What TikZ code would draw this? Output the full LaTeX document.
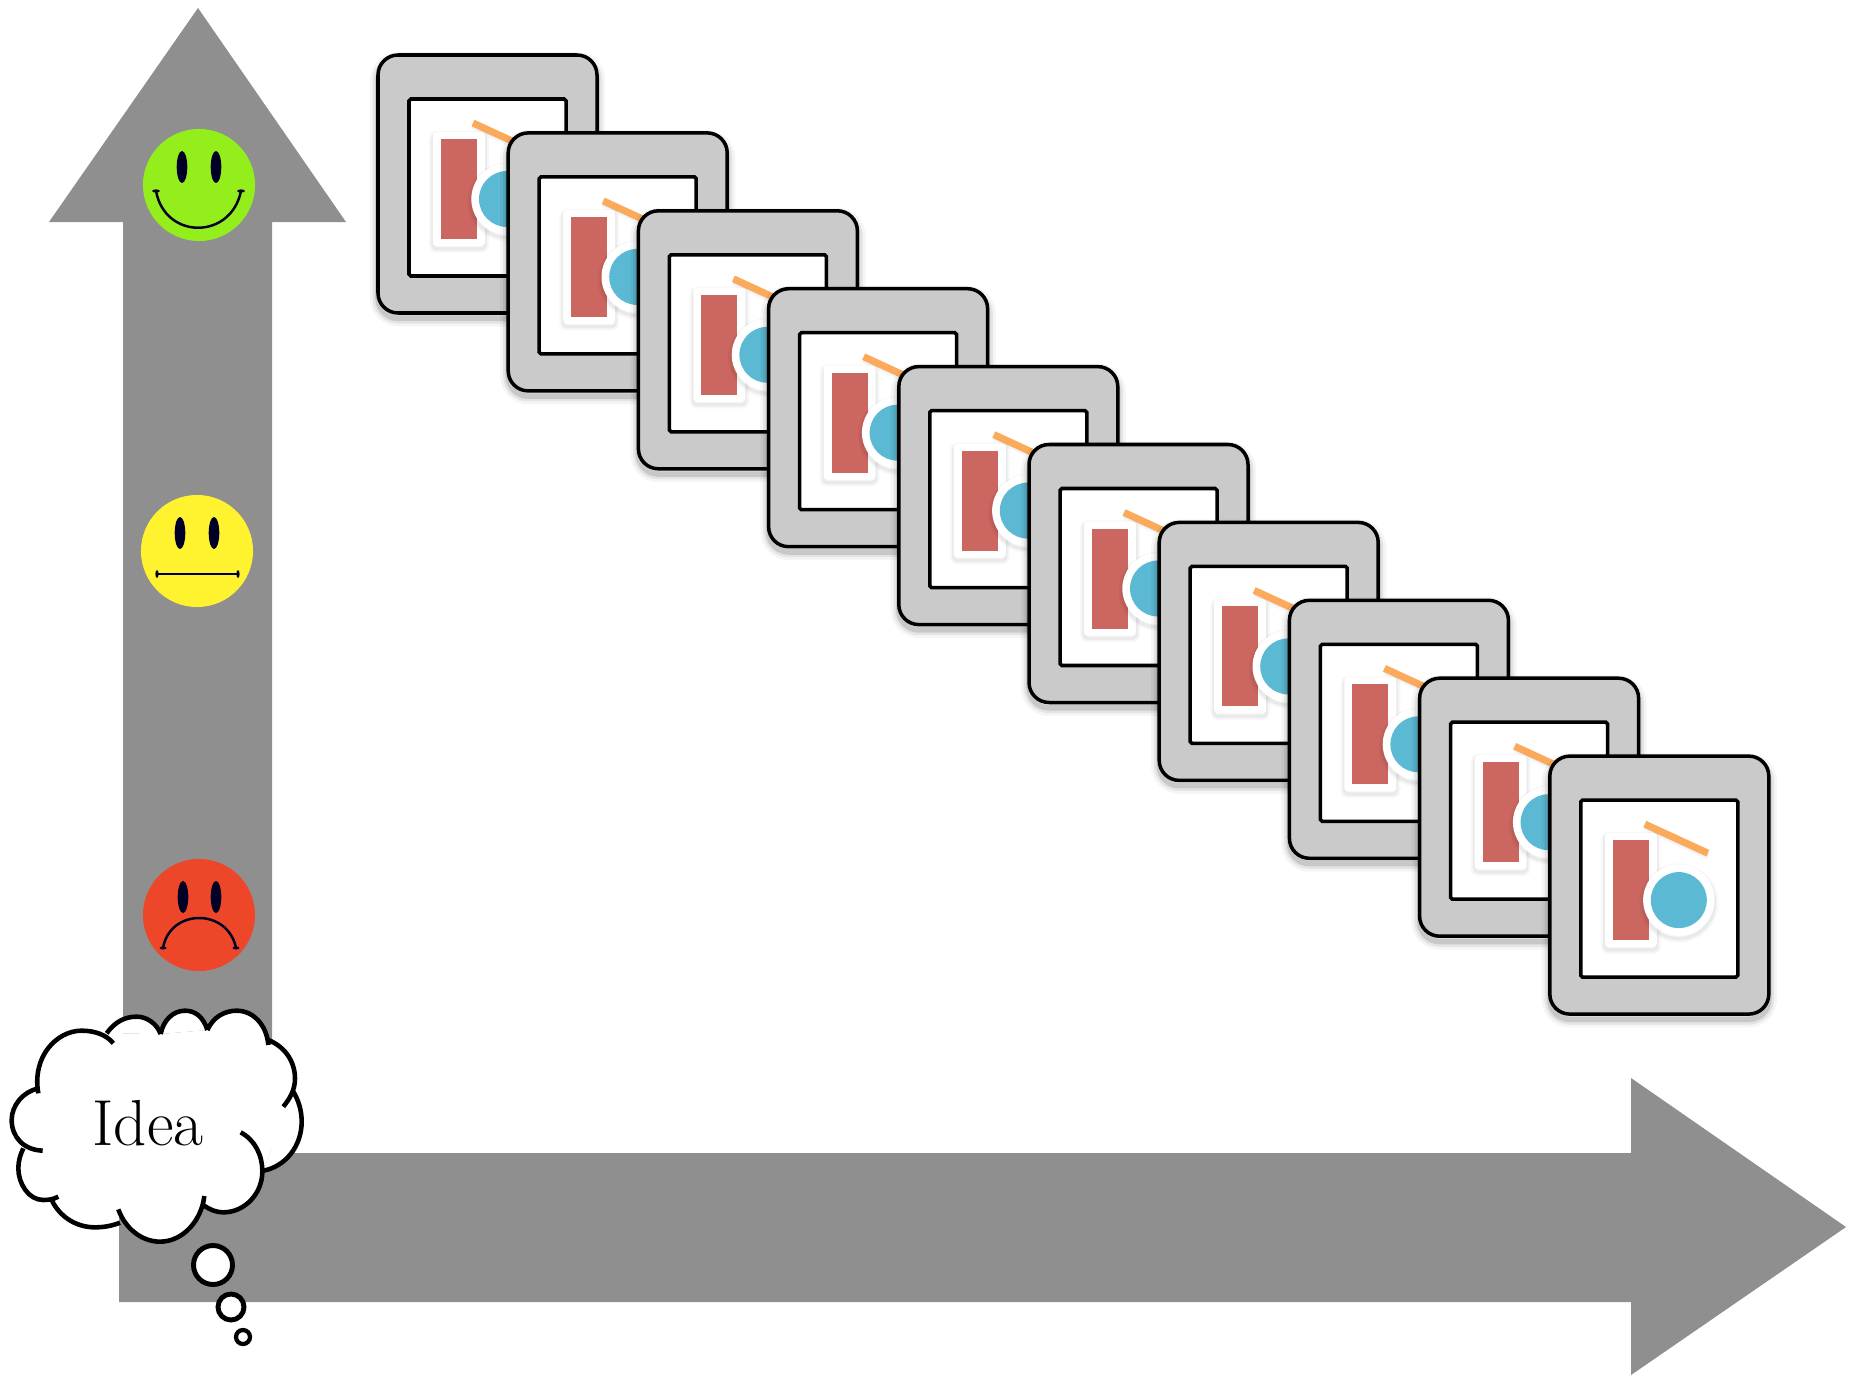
\documentclass[tikz,border=0pt]{standalone}
\usepackage{xcolor}
\usetikzlibrary{arrows.meta,calc,positioning}
\definecolor{axisgray}{HTML}{8F8F8F}
\definecolor{cardgray}{HTML}{CACACA}
\definecolor{barred}{HTML}{CC6660}
\definecolor{ballblue}{HTML}{5CB9D3}
\definecolor{stickorange}{HTML}{FBA95B}
\definecolor{happygreen}{HTML}{93EE1C}
\definecolor{flatyellow}{HTML}{FFF22F}
\definecolor{sadred}{HTML}{EE4629}
\newcommand{\cloudlobes}{
  (115,340) .. controls (95,230) and (170,152) .. (245,152) .. controls (285,152) and (320,165) .. (340,190)
  (320,160) .. controls (345,125) and (375,110) .. (410,110) .. controls (440,110) and (470,130) .. (482,162)
  (482,162) .. controls (490,120) and (520,92) .. (555,92) .. controls (585,92) and (610,110) .. (622,150)
  (622,150) .. controls (640,110) and (675,92) .. (710,92) .. controls (760,92) and (800,135) .. (805,195)
  (805,180) .. controls (855,200) and (885,245) .. (885,295) .. controls (885,330) and (870,355) .. (850,380)
  (880,335) .. controls (895,360) and (905,390) .. (905,425) .. controls (905,500) and (855,560) .. (790,572)
  (722,457) .. controls (765,480) and (787,525) .. (787,575) .. controls (787,640) and (735,697) .. (670,697) .. controls (650,697) and (630,690) .. (610,675)
  (613,648) .. controls (605,720) and (550,785) .. (480,785) .. controls (425,785) and (375,745) .. (355,688)
  (360,728) .. controls (335,738) and (310,742) .. (285,742) .. controls (230,742) and (180,712) .. (155,660)
  (175,650) .. controls (160,658) and (145,660) .. (130,660) .. controls (85,660) and (55,610) .. (55,565) .. controls (55,545) and (60,525) .. (70,505)
  (128,512) .. controls (70,510) and (35,470) .. (35,420) .. controls (35,375) and (70,335) .. (115,325)
}

\begin{document}
\begin{tikzpicture}[x=0.01cm,y=-0.01cm,
    face/.style={circle,minimum size=1.12cm,inner sep=0pt},
    eye/.style={fill=black!85!blue},
    mouth/.style={line width=0.7pt,black!85!blue},
    bubble/.style={draw=black,fill=white,line width=1.4pt},
    cardshadow/.style={
      preaction={draw=black,draw opacity=.04,line width=4.6pt,transform canvas={yshift=-1.5pt}},
      preaction={draw=black,draw opacity=.07,line width=3pt,transform canvas={yshift=-1.5pt}},
      preaction={draw=black,draw opacity=.12,line width=1.6pt,transform canvas={yshift=-1.5pt}}},
    itemshadow/.style={
      preaction={draw=black,draw opacity=.03,line width=2.2pt,transform canvas={yshift=-.8pt}},
      preaction={draw=black,draw opacity=.05,line width=1pt,transform canvas={yshift=-.8pt}}}]
  \useasboundingbox (0,0) rectangle (1858,1376);
  \fill[axisgray] (123,1160) -- (123,222) -- (49,222) -- (198,8) -- (346,222) -- (272,222) -- (272,1160) -- cycle;
  \fill[axisgray] (119,1153) -- (1631,1153) -- (1631,1078) -- (1846,1227) -- (1631,1375) -- (1631,1302) -- (119,1302) -- cycle;
  \node[face,fill=happygreen] (happy) at (199,185) {};
  \node[face,fill=flatyellow] (flat) at (197,551) {};
  \node[face,fill=sadred] (sad) at (199,915) {};
  \foreach \f/\ex/\ey in {happy/182/167,happy/216/167,flat/180/533,flat/214/533,sad/183/897,sad/216/897}
    \fill[eye] (\ex,\ey) ellipse [x radius=5.3,y radius=16];
  \draw[mouth] (156,191) .. controls (165,240) and (231,240) .. (241,191);
  \fill[eye] (156,191) ellipse [x radius=4,y radius=1.6];
  \fill[eye] (241,191) ellipse [x radius=4,y radius=1.6];
  \draw[mouth] (157,574) -- (238,574);
  \fill[eye] (157,574) ellipse [x radius=1.6,y radius=4];
  \fill[eye] (238,574) ellipse [x radius=1.6,y radius=4];
  \draw[mouth] (163,948) .. controls (170,908) and (228,908) .. (236,948);
  \fill[eye] (163,948) ellipse [x radius=3.5,y radius=1.5];
  \fill[eye] (236,948) ellipse [x radius=3.5,y radius=1.5];
  \foreach \i in {0,...,9} {
    \begin{scope}[shift={(130.2*\i,77.9*\i)}]
      \draw[cardshadow,fill=cardgray,line width=1pt,rounded corners=0.2cm] (378,55) rectangle (597,313);
      \draw[fill=white,line width=1pt,rounded corners=0.5pt] (409,99) rectangle (566,276);
      \draw[stickorange,itemshadow,line width=2pt] (473,123) -- (536,152);
      \fill[white,itemshadow,rounded corners=1pt] (433,132) rectangle (485,246);
      \fill[barred] (441,139) rectangle (477,239);
      \fill[white,itemshadow] (507,199) circle [radius=35.7];
      \fill[ballblue] (507,199) circle [radius=28];
    \end{scope}
  }
  \begin{scope}[shift={(0,980)},scale=1/3]
    \fill[white] (115,325) -- (320,160) -- (482,162) -- (622,150) -- (805,180) -- (880,335) -- (790,572) -- (610,675) -- (480,760) -- (355,700) -- (165,655) -- (70,505) -- cycle;
    \fill[white] \cloudlobes;
    \draw[line width=1.3pt] \cloudlobes;
  \end{scope}
  \node[font=\fontsize{18.5}{21}\selectfont,anchor=base,inner sep=0pt] (idea) at (148,1145) {Idea};
  \draw[bubble] (213,1265) circle [radius=19.5];
  \draw[bubble] (231,1307) circle [radius=13];
  \draw[bubble,line width=1.2pt] (243,1337) circle [radius=7];
\end{tikzpicture}
\end{document}
